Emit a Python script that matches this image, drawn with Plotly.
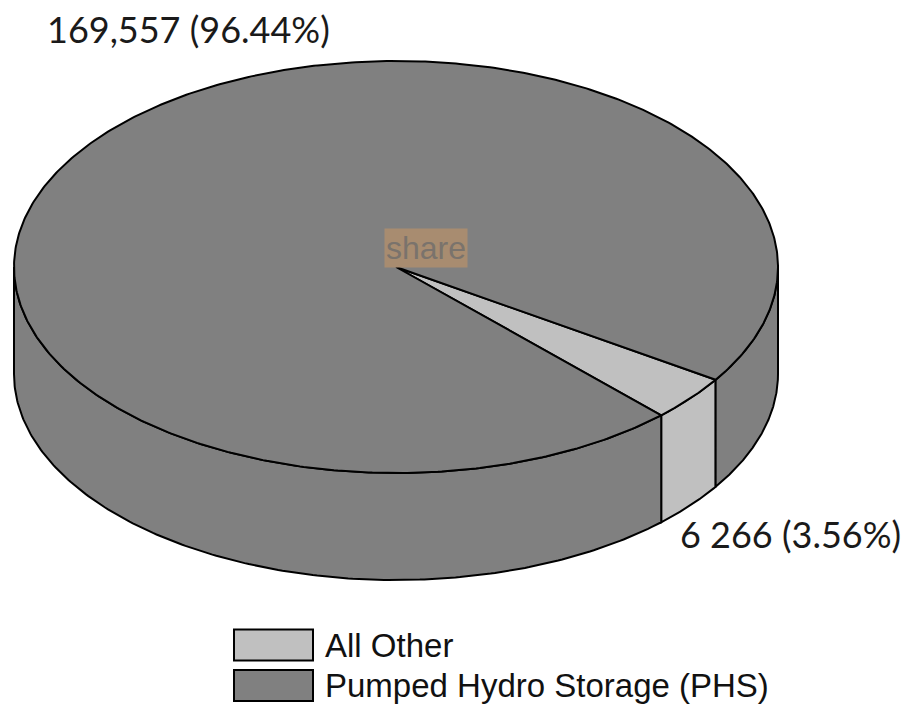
import numpy as np
import plotly.graph_objects as go

# Installed energy storage capacity by technology
labels = ["Pumped Hydro Storage (PHS)", "All Other"]
values = [169557, 6266]
thousands_sep = [",", " "]
colors = ["#808080", "#c0c0c0"]
legend_order = [1, 0]

W, H = 902, 705
CX, CY = 396, 267      # centre of the top face (pixel space)
RX, RY = 382, 206      # semi-axes of the top face
DEPTH = 107            # thickness of the disc
START_DEG = 33.2       # where "All Other" begins, clockwise from 3 o'clock
EDGE = dict(color="black", width=2)

total = float(sum(values))
fracs = [v / total for v in values]

# lay the slices out clockwise, starting with "All Other"
slice_order = [1, 0]
spans = {}
t = START_DEG
for i in slice_order:
    spans[i] = (t, t + fracs[i] * 360.0)
    t += fracs[i] * 360.0


def arc(t1, t2, cy, n=200):
    tt = np.radians(np.linspace(t1, t2, n))
    return CX + RX * np.cos(tt), cy + RY * np.sin(tt)


fig = go.Figure()

# front walls: only the part facing the viewer (0..180 deg, screen-down)
for i in slice_order:
    t1, t2 = spans[i]
    for base in (0.0, 360.0):
        u1, u2 = max(t1, base), min(t2, base + 180.0)
        if u2 <= u1:
            continue
        xt, yt = arc(u1, u2, CY)
        xb, yb = arc(u2, u1, CY + DEPTH)
        fig.add_trace(go.Scatter(
            x=np.concatenate([xt, xb, xt[:1]]),
            y=np.concatenate([yt, yb, yt[:1]]),
            mode="lines", fill="toself", fillcolor=colors[i],
            line=EDGE, hoverinfo="skip", showlegend=False))

# top faces
for i in slice_order:
    t1, t2 = spans[i]
    xa, ya = arc(t1, t2, CY, n=600)
    fig.add_trace(go.Scatter(
        x=np.concatenate([[CX], xa, [CX]]),
        y=np.concatenate([[CY], ya, [CY]]),
        mode="lines", fill="toself", fillcolor=colors[i],
        line=EDGE, hoverinfo="skip", showlegend=False))

# value labels
label_pos = {0: (45, 28.5), 1: (678, 533.5)}
annotations = []
for i in range(len(values)):
    txt = f"{values[i]:,}".replace(",", thousands_sep[i]) + f" ({fracs[i] * 100:.2f}%)"
    x, y = label_pos[i]
    annotations.append(dict(
        x=x, y=y, xref="x", yref="y", text=txt, showarrow=False,
        xanchor="left", yanchor="middle",
        font=dict(family="Lato", size=36, color="#1a1a1a")))

annotations.append(dict(
    x=CX + 30, y=CY - 19, xref="x", yref="y", text="share", showarrow=False,
    xanchor="center", yanchor="middle", bgcolor="#a88c70", borderpad=1,
    font=dict(family="Liberation Sans, Arial", size=32, color="#7a736c")))

# legend
shapes = []
box_x0, box_x1 = 234, 313
row_y = [645, 685.5]
for row, i in enumerate(legend_order):
    yc = row_y[row]
    shapes.append(dict(type="rect", xref="x", yref="y",
                       x0=box_x0, x1=box_x1, y0=yc - 15.5, y1=yc + 15.5,
                       fillcolor=colors[i], line=EDGE))
    annotations.append(dict(
        x=323, y=yc, xref="x", yref="y", text=labels[i], showarrow=False,
        xanchor="left", yanchor="middle",
        font=dict(family="Liberation Sans, Arial", size=33, color="#111111")))

fig.update_layout(
    width=W, height=H,
    margin=dict(l=0, r=0, t=0, b=0),
    paper_bgcolor="white", plot_bgcolor="white",
    xaxis=dict(range=[0, W], visible=False, fixedrange=True),
    yaxis=dict(range=[H, 0], visible=False, fixedrange=True),
    shapes=shapes, annotations=annotations,
)

fig.write_html("out.html")
